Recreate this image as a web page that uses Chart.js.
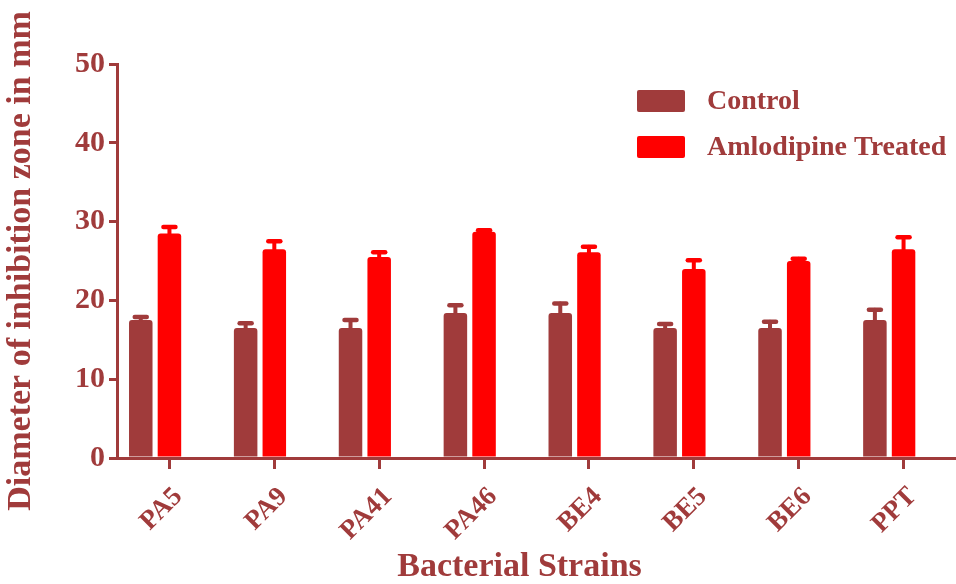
<!DOCTYPE html>
<html>
<head>
<meta charset="utf-8">
<script src="https://cdn.jsdelivr.net/npm/chart.js@4.4.1/dist/chart.umd.min.js"></script>
<style>
  html, body { margin: 0; padding: 0; background: #fff; }
  #wrap { width: 956px; height: 584px; }
</style>
</head>
<body>
<div id="wrap"><canvas id="chart"></canvas></div>
<script>
// data
const strains = ['PA5', 'PA9', 'PA41', 'PA46', 'BE4', 'BE5', 'BE6', 'PPT'];
const control = [17.5, 16.5, 16.5, 18.4, 18.4, 16.5, 16.5, 17.5];
const controlErr = [0.4, 0.6, 1.0, 1.0, 1.2, 0.5, 0.8, 1.3];
const treated = [28.5, 26.5, 25.5, 28.7, 26.1, 24.0, 25.0, 26.5];
const treatedErr = [0.8, 1.0, 0.6, 0.2, 0.7, 1.1, 0.3, 1.5];
const yTicks = [0, 10, 20, 30, 40, 50];

const ink = '#a03b3b';
const serif = '"Liberation Serif", "Times New Roman", serif';

// error bars with a small cap on top
const errorBars = {
    id: 'errorBars',
    afterDatasetsDraw(chart) {
        const ctx = chart.ctx;
        const y = chart.scales.y;
        chart.data.datasets.forEach((ds, i) => {
            if (!ds.errors) return;
            const meta = chart.getDatasetMeta(i);
            meta.data.forEach((bar, j) => {
                const top = y.getPixelForValue(ds.data[j] + ds.errors[j]);
                ctx.save();
                ctx.strokeStyle = ds.backgroundColor;
                ctx.lineCap = 'round';
                ctx.lineWidth = 4;
                ctx.beginPath();
                ctx.moveTo(bar.x, bar.y);
                ctx.lineTo(bar.x, top);
                ctx.stroke();
                ctx.lineWidth = 4.5;
                ctx.beginPath();
                ctx.moveTo(bar.x - 6, top);
                ctx.lineTo(bar.x + 6, top);
                ctx.stroke();
                ctx.restore();
            });
        });
    }
};

// legend drawn inside the plot, top right
const boxLegend = {
    id: 'boxLegend',
    afterDraw(chart) {
        const ctx = chart.ctx;
        const items = chart.data.datasets.filter(d => d.label);
        ctx.save();
        ctx.font = 'bold 28px ' + serif;
        ctx.textBaseline = 'middle';
        items.forEach((ds, i) => {
            const cy = 101 + i * 46;
            ctx.fillStyle = ds.backgroundColor;
            ctx.beginPath();
            ctx.roundRect(637, cy - 11, 48, 22, 2);
            ctx.fill();
            ctx.fillStyle = ink;
            ctx.fillText(ds.label, 707, cy + 1);
        });
        ctx.restore();
    }
};

new Chart(document.getElementById('chart'), {
    type: 'bar',
    data: {
        labels: strains,
        datasets: [
            { label: 'Control', data: control, errors: controlErr, backgroundColor: ink },
            { label: 'Amlodipine Treated', data: treated, errors: treatedErr, backgroundColor: '#ff0000' },
            // empty slot so the tick sits under the treated bar
            { label: '', data: strains.map(() => null), backgroundColor: 'rgba(0,0,0,0)' }
        ]
    },
    options: {
        responsive: true,
        maintainAspectRatio: false,
        animation: false,
        events: [],
        layout: { padding: { top: 64, right: 0, left: 0, bottom: 0 } },
        datasets: {
            bar: {
                categoryPercentage: 0.82,
                barPercentage: 0.82,
                borderRadius: { topLeft: 3, topRight: 3 },
                borderSkipped: 'bottom'
            }
        },
        plugins: {
            legend: { display: false },
            tooltip: { enabled: false }
        },
        scales: {
            x: {
                afterFit(s) { s.height = 126; },
                border: { color: ink, width: 3 },
                grid: {
                    offset: false,
                    drawOnChartArea: false,
                    drawTicks: true,
                    tickLength: 11,
                    color: ink,
                    lineWidth: 3
                },
                ticks: {
                    color: ink,
                    font: { family: serif, size: 27, weight: 'bold' },
                    minRotation: 45,
                    maxRotation: 45,
                    labelOffset: 9,
                    padding: 12
                },
                title: {
                    display: true,
                    text: 'Bacterial Strains\u00a0\u00a0\u00a0\u00a0',
                    color: ink,
                    font: { family: serif, size: 34, weight: 'bold', lineHeight: 1 },
                    padding: { top: 0, bottom: 0 }
                }
            },
            y: {
                min: 0,
                max: 50,
                afterFit(s) { s.width = 117; },
                afterBuildTicks(s) { s.ticks = yTicks.map(v => ({ value: v })); },
                border: { color: ink, width: 3 },
                grid: {
                    drawOnChartArea: false,
                    tickLength: 8,
                    color: ink,
                    lineWidth: 3
                },
                ticks: {
                    color: ink,
                    font: { family: serif, size: 30, weight: 'bold' },
                    padding: 4
                },
                title: {
                    display: true,
                    text: 'Diameter of inhibition zone in mm',
                    color: ink,
                    font: { family: serif, size: 34, weight: 'bold', lineHeight: 1 },
                    padding: { top: 4, bottom: 0 }
                }
            }
        }
    },
    plugins: [errorBars, boxLegend]
});
</script>
</body>
</html>
